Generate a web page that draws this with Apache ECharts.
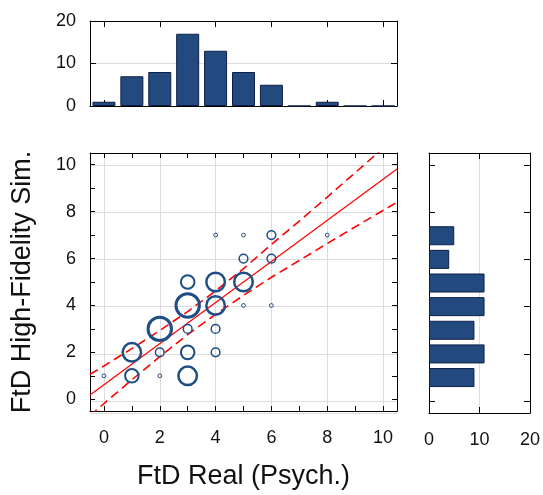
<!DOCTYPE html>
<html>
<head>
<meta charset="utf-8">
<script src="https://cdn.jsdelivr.net/npm/echarts@6/dist/echarts.min.js"></script>
<style>
  html, body { margin: 0; padding: 0; background: #fff; }
  #chart { width: 543px; height: 495px; }
</style>
</head>
<body>
<div id="chart"></div>
<script>
// 데이터
const cats = ['0', '1', '2', '3', '4', '5', '6', '7', '8', '9', '10'];
const histReal = [1, 7, 8, 17, 13, 8, 5, 0, 1, 0, 0];
const histSim = [0, 9, 11, 9, 11, 11, 4, 5, 0, 0, 0];

const pointX = [0, 1, 1, 2, 2, 2, 3, 3, 3, 3, 3, 4, 4, 4, 4, 4, 5, 5, 5, 5, 6, 6, 6, 8];
const pointY = [1, 1, 2, 1, 2, 3, 1, 2, 3, 4, 5, 2, 3, 4, 5, 7, 4, 5, 6, 7, 4, 6, 7, 7];
const pointCount = [1, 3, 4, 1, 2, 5, 4, 3, 2, 5, 3, 2, 2, 4, 4, 1, 1, 4, 2, 1, 1, 2, 2, 1];

const fitX = [-0.5, 10.5];
const fitY = [0.18, 9.82];
const bandX = [-0.5, 0, 1, 2, 3, 4, 5, 6, 7, 8, 9, 10, 10.5];
const bandUpper = [1.06, 1.42, 2.16, 2.93, 3.74, 4.62, 5.57, 6.6, 7.6, 8.62, 9.66, 10.71, 11.24];
const bandLower = [-0.7, -0.18, 0.83, 1.82, 2.76, 3.62, 4.43, 5.2, 5.92, 6.64, 7.35, 8.05, 8.4];

const BLUE = '#234a7e';
const EDGE = '#0c1f45';
const FONT = 'Liberation Sans';
const GRIDC = '#dcdcdc';

let myChart = echarts.init(document.getElementById('chart'), null, { renderer: 'canvas' });

const frameLine = { show: true, onZero: false, lineStyle: { color: '#000', width: 1 } };
const inTick = { show: true, inside: true, length: 5, lineStyle: { color: '#000', width: 1 } };
const histTick = Object.assign({}, inTick, { length: 6 });
const catTick = Object.assign({}, histTick, { interval: 1, alignWithLabel: true });
const label = { fontSize: 18, color: '#111', fontFamily: FONT };
const evenLabel = (v) => (Math.abs(v % 2) < 1e-9 ? String(v) : '');

// 주 그래프 축 (눈금은 1단위, 라벨은 2단위)
function mainAxis(extra) {
  return Object.assign({
    type: 'value', gridIndex: 2, min: -0.5, max: 10.5,
    minInterval: 1, maxInterval: 1,
    axisLine: frameLine, axisTick: inTick,
    axisLabel: { show: false },
    splitLine: { show: false },
  }, extra);
}
// 격자선만 그리는 축
function gridAxis(extra) {
  return Object.assign({
    type: 'value', gridIndex: 1, min: -0.5, max: 10.5,
    minInterval: 2, maxInterval: 2,
    axisLine: { show: false, onZero: false }, axisTick: { show: false }, axisLabel: { show: false },
    splitLine: { show: true, lineStyle: { color: GRIDC, width: 1 } },
  }, extra);
}

const scatterData = pointX.map((x, i) => ({
  value: [x, pointY[i], pointCount[i]],
  symbolSize: 4.9 * pointCount[i] - 1.1,
  itemStyle: { borderWidth: 0.5 + 0.5 * pointCount[i] },
}));

// 값이 0인 막대는 테두리 없이
const barItems = (arr) => arr.map((v) => (v === 0 ? { value: v, itemStyle: { borderWidth: 0 } } : v));

const option = {
  animation: false,
  backgroundColor: '#fff',
  grid: [
    { left: 90, top: 21, width: 307, height: 85 },
    { left: 90, top: 153, width: 307, height: 260 },
    { left: 90, top: 153, width: 307, height: 260 },
    { left: 429, top: 153, width: 102, height: 260 },
  ],
  xAxis: [
    { type: 'category', gridIndex: 0, position: 'bottom', data: cats, boundaryGap: true,
      axisLine: frameLine, axisTick: catTick, axisLabel: { show: false } },
    { type: 'category', gridIndex: 0, position: 'top', data: cats, boundaryGap: true,
      axisLine: frameLine, axisLabel: { show: false }, axisTick: catTick },
    gridAxis({ position: 'bottom' }),
    mainAxis({
      position: 'bottom',
      axisLabel: Object.assign({ show: true, margin: 18, formatter: evenLabel }, label),
      name: 'FtD Real (Psych.)', nameLocation: 'middle', nameGap: 52,
      nameTextStyle: { fontSize: 27, color: '#111', fontFamily: 'Liberation Sans Narrow, ' + FONT },
    }),
    mainAxis({ position: 'top' }),
    { type: 'value', gridIndex: 3, position: 'bottom', min: 0, max: 20, interval: 10,
      axisLine: frameLine, axisTick: histTick,
      axisLabel: Object.assign({ margin: 18 }, label),
      splitLine: { show: true, lineStyle: { color: GRIDC } } },
    { type: 'value', gridIndex: 3, position: 'top', min: 0, max: 20, interval: 10,
      axisLine: frameLine, axisTick: histTick, axisLabel: { show: false }, splitLine: { show: false } },
  ],
  yAxis: [
    { type: 'value', gridIndex: 0, position: 'left', min: 0, max: 20, interval: 10,
      axisLine: frameLine, axisTick: histTick,
      axisLabel: Object.assign({ margin: 14 }, label),
      splitLine: { show: true, lineStyle: { color: GRIDC } } },
    { type: 'value', gridIndex: 0, position: 'right', min: 0, max: 20, interval: 10,
      axisLine: frameLine, axisTick: histTick, axisLabel: { show: false }, splitLine: { show: false } },
    gridAxis({ position: 'left' }),
    mainAxis({
      position: 'left',
      axisLabel: Object.assign({ show: true, margin: 14, formatter: evenLabel }, label),
      name: 'FtD High-Fidelity Sim.', nameLocation: 'middle', nameGap: 54,
      nameTextStyle: { fontSize: 27, color: '#111', fontFamily: 'Liberation Sans Narrow, ' + FONT },
    }),
    mainAxis({ position: 'right' }),
    { type: 'category', gridIndex: 3, position: 'left', data: cats, boundaryGap: true,
      axisLine: frameLine, axisLabel: { show: false }, axisTick: catTick },
    { type: 'category', gridIndex: 3, position: 'right', data: cats, boundaryGap: true,
      axisLine: frameLine, axisLabel: { show: false }, axisTick: catTick },
  ],
  series: [
    {
      type: 'bar', xAxisIndex: 0, yAxisIndex: 0, data: histReal, barWidth: 23,
      itemStyle: { color: BLUE, borderColor: EDGE, borderWidth: 1 },
      silent: true,
    },
    {
      type: 'bar', xAxisIndex: 5, yAxisIndex: 5, data: barItems(histSim), barWidth: 19,
      itemStyle: { color: BLUE, borderColor: EDGE, borderWidth: 1 },
      silent: true,
    },
    {
      type: 'line', xAxisIndex: 3, yAxisIndex: 3, symbol: 'none', silent: true,
      data: fitX.map((x, i) => [x, fitY[i]]),
      lineStyle: { color: '#ff0000', width: 1.2 }, z: 3,
    },
    {
      type: 'line', xAxisIndex: 3, yAxisIndex: 3, symbol: 'none', silent: true,
      data: bandX.map((x, i) => [x, bandUpper[i]]),
      lineStyle: { color: '#ff0000', width: 1.6, type: [9, 5] }, z: 3,
    },
    {
      type: 'line', xAxisIndex: 3, yAxisIndex: 3, symbol: 'none', silent: true,
      data: bandX.map((x, i) => [x, bandLower[i]]),
      lineStyle: { color: '#ff0000', width: 1.6, type: [9, 5] }, z: 3,
    },
    {
      type: 'scatter', xAxisIndex: 3, yAxisIndex: 3, symbol: 'circle', silent: true,
      data: scatterData,
      itemStyle: { color: 'rgba(0,0,0,0)', borderColor: '#1f4e86', opacity: 1 },
      z: 4,
    },
  ],
};

myChart.setOption(option);
</script>
</body>
</html>
